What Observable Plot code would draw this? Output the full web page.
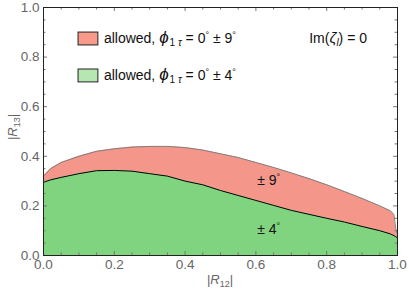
<!DOCTYPE html>
<html><head><meta charset="utf-8">
<script src="https://cdn.jsdelivr.net/npm/d3@7"></script>
<script src="https://cdn.jsdelivr.net/npm/@observablehq/plot@0.6"></script>
<style>
body{margin:0;background:#fff}
svg{font-family:"Liberation Sans",Arial,Helvetica,sans-serif}
</style>
</head><body><div id="chart"></div>
<script>
// |R12| grid
const r12 = [0, 0.02, 0.05, 0.1, 0.15, 0.2, 0.25, 0.3, 0.35, 0.4, 0.45, 0.5, 0.55, 0.6, 0.65, 0.7, 0.75, 0.8, 0.85, 0.9, 0.95, 0.98, 0.99, 0.995, 1.0, 1.0];
// upper |R13| bound, phi = 0 ± 9°
const r13Nine = [0.32, 0.35, 0.375, 0.40, 0.42, 0.43, 0.437, 0.44, 0.44, 0.435, 0.425, 0.41, 0.395, 0.375, 0.355, 0.333, 0.31, 0.285, 0.258, 0.23, 0.20, 0.18, 0.165, 0.11, 0.08, 0];
// upper |R13| bound, phi = 0 ± 4°
const r13Four = [0.295, 0.305, 0.315, 0.33, 0.342, 0.343, 0.34, 0.33, 0.32, 0.30, 0.285, 0.262, 0.242, 0.222, 0.202, 0.182, 0.166, 0.15, 0.135, 0.117, 0.10, 0.087, 0.08, 0.076, 0.07, 0];
const xTicks = [0, 0.2, 0.4, 0.6, 0.8, 1.0];
const yTicks = [0, 0.2, 0.4, 0.6, 0.8, 1.0];
const minorTicks = [0.05,0.1,0.15,0.25,0.3,0.35,0.45,0.5,0.55,0.65,0.7,0.75,0.85,0.9,0.95];
const legendLabels = ["9°", "4°"];

const W = 409, H = 296, mL = 43, mR = 12, mT = 7, mB = 41;
const pxX = 1 / (W - mL - mR), pxY = 1 / (H - mT - mB);
const data = r12.map((x, i) => ({x, nine: r13Nine[i], four: r13Four[i]}));
const red = "#f5968a", green = "#80d480", tickC = "#777";
const majX = 4 * pxY, minX = 2.5 * pxY, majY = 4 * pxX, minY = 2.5 * pxX;

const plot = Plot.plot({
  width: W, height: H,
  marginLeft: mL, marginRight: mR, marginTop: mT, marginBottom: mB,
  x: {domain: [0, 1]},
  y: {domain: [0, 1]},
  style: {fontFamily: "Liberation Sans, Arial, sans-serif"},
  marks: [
    Plot.areaY(data, {x: "x", y: "nine", fill: red}),
    Plot.areaY(data, {x: "x", y: "four", fill: green}),
    Plot.lineY(data, {x: "x", y: "nine", stroke: "#808080", strokeWidth: 1}),
    Plot.lineY(data, {x: "x", y: "four", stroke: "#000", strokeWidth: 1}),
    // frame ticks (inside)
    Plot.ruleX(xTicks, {x: d => d, y1: 0, y2: majX, stroke: tickC}),
    Plot.ruleX(minorTicks, {x: d => d, y1: 0, y2: minX, stroke: tickC}),
    Plot.ruleX(xTicks, {x: d => d, y1: 1, y2: 1 - majX, stroke: tickC}),
    Plot.ruleX(minorTicks, {x: d => d, y1: 1, y2: 1 - minX, stroke: tickC}),
    Plot.ruleY(yTicks, {y: d => d, x1: 0, x2: majY, stroke: tickC}),
    Plot.ruleY(minorTicks, {y: d => d, x1: 0, x2: minY, stroke: tickC}),
    Plot.ruleY(yTicks, {y: d => d, x1: 1, x2: 1 - majY, stroke: tickC}),
    Plot.ruleY(minorTicks, {y: d => d, x1: 1, x2: 1 - minY, stroke: tickC}),
    Plot.frame({stroke: "#222", strokeWidth: 1}),
    Plot.axisX({ticks: xTicks, tickSize: 0, tickPadding: 4, tickFormat: d3.format(".1f"), fontSize: 13.5, color: "#666", label: null}),
    Plot.axisY({ticks: yTicks, tickSize: 0, tickPadding: 4, tickFormat: d3.format(".1f"), fontSize: 13.5, color: "#666", label: null})
  ]
});

const svg = d3.select(plot);
const sx = plot.scale("x").apply, sy = plot.scale("y").apply;
const g = svg.append("g").attr("font-size", 14).attr("text-anchor", "start");

// legend
const swatches = [{y1: 0.899, y2: 0.847, fill: "#f79a8a", lab: legendLabels[0]}, {y1: 0.75, y2: 0.698, fill: "#b6e6b1", lab: legendLabels[1]}];
swatches.forEach(s => {
  g.append("rect").attr("x", sx(0.099)).attr("y", sy(s.y1))
    .attr("width", sx(0.155) - sx(0.099)).attr("height", sy(s.y2) - sy(s.y1))
    .attr("fill", s.fill).attr("stroke", "#222").attr("stroke-width", 1);
  const t = g.append("text").attr("x", sx(0.172)).attr("y", (sy(s.y1) + sy(s.y2)) / 2 + 5).attr("fill", "#111");
  t.append("tspan").text("allowed, ");
  t.append("tspan").attr("font-style", "italic").attr("font-size", 17).text("ϕ");
  t.append("tspan").attr("font-size", 10).attr("dy", 3).attr("dx", 1).text("1 ");
  t.append("tspan").attr("font-size", 10).attr("font-style", "italic").text("τ");
  t.append("tspan").attr("dy", -3).text(" = 0");
  t.append("tspan").attr("font-size", 9).attr("dy", -5).text("°");
  t.append("tspan").attr("dy", 5).text(" ± " + s.lab.replace("°", ""));
  t.append("tspan").attr("font-size", 9).attr("dy", -5).text("°");
});

// Im(zeta_l) = 0
const im = g.append("text").attr("x", sx(0.752)).attr("y", sy(0.855)).attr("fill", "#111");
im.append("tspan").text("Im(");
im.append("tspan").attr("font-style", "italic").attr("font-size", 15).text("ζ");
im.append("tspan").attr("font-style", "italic").attr("font-size", 10).attr("dy", 3).text("l");
im.append("tspan").attr("dy", -3).text(") = 0");

// region labels
[[0.3, "9°", 0.605], [0.1, "4°", 0.605]].forEach(([y, lab, x]) => {
  const t = g.append("text").attr("x", sx(x)).attr("y", sy(y) + 4).attr("fill", "#111");
  t.append("tspan").text("± " + lab.replace("°", ""));
  t.append("tspan").attr("font-size", 9).attr("dy", -5).text("°");
});

// axis labels
const xl = g.append("text").attr("x", (sx(0) + sx(1)) / 2).attr("y", 284).attr("text-anchor", "middle").attr("fill", "#666").attr("font-size", 13);
xl.append("tspan").text("|");
xl.append("tspan").attr("font-style", "italic").text("R");
xl.append("tspan").attr("font-size", 9).attr("dy", 3).text("12");
xl.append("tspan").attr("dy", -3).text("|");

const yl = g.append("text").attr("transform", `translate(17,${(sy(0) + sy(1)) / 2 - 4}) rotate(-90)`).attr("text-anchor", "middle").attr("fill", "#666").attr("font-size", 13);
yl.append("tspan").text("|");
yl.append("tspan").attr("font-style", "italic").text("R");
yl.append("tspan").attr("font-size", 9).attr("dy", 3).text("13");
yl.append("tspan").attr("dy", -3).text("|");

document.getElementById("chart").append(plot);
</script>
</body></html>
